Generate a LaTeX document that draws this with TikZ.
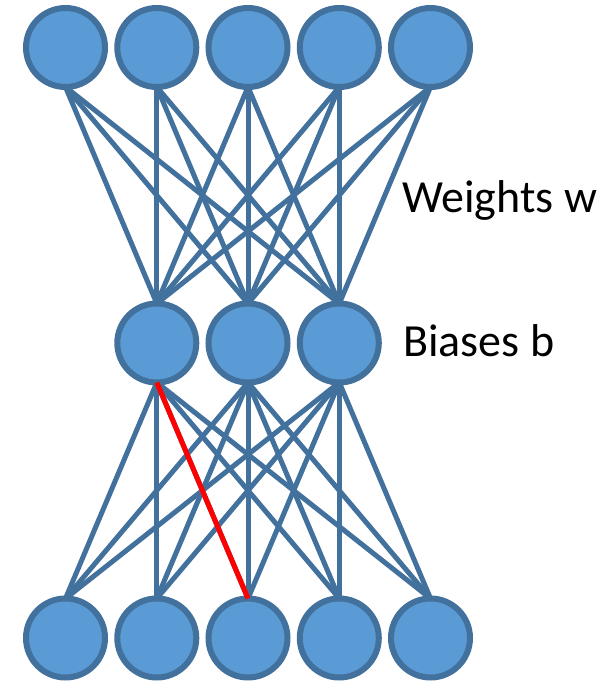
\documentclass[tikz,border=0pt]{standalone}
\usepackage{fontspec}
\setmainfont{Carlito}
\definecolor{nfill}{HTML}{5B9BD5}
\definecolor{nedge}{HTML}{41719C}
\begin{document}
\begin{tikzpicture}[x=1pt,y=1pt,
  neuron/.style={circle,fill=nfill,draw=nedge,line width=6pt,minimum size=79pt,inner sep=0pt,outer sep=0pt},
  conn/.style={draw=nedge,line width=5pt},
  redconn/.style={draw=red,line width=5pt},
  lbl/.style={font=\fontsize{46}{55}\selectfont,inner sep=0pt,anchor=base west}]
\useasboundingbox (0,0) rectangle (606,681);
% top row
\foreach \i/\x in {1/65.5,2/156.8,3/248,4/339.3,5/430.5}{
  \node[neuron] (t\i) at (\x,633.5) {};
}
% middle row
\foreach \i/\x in {1/156.8,2/248,3/339.3}{
  \node[neuron] (m\i) at (\x,338) {};
}
% bottom row
\foreach \i/\x in {1/65.5,2/156.8,3/248,4/339.3,5/430.5}{
  \node[neuron] (b\i) at (\x,43) {};
}
% connections top -> middle
\foreach \i in {1,...,5}{
  \foreach \j in {1,2,3}{
    \draw[conn] (t\i.south) -- (m\j.north);
  }
}
% connections middle -> bottom
\foreach \j in {1,2,3}{
  \foreach \k in {1,...,5}{
    \draw[conn] (m\j.south) -- (b\k.north);
  }
}
\draw[redconn] (m1.south) -- (b3.north);
\node[lbl] (w) at (402,468) {Weights w};
\node[lbl] (bb) at (403,324) {Biases b};
\end{tikzpicture}
\end{document}
